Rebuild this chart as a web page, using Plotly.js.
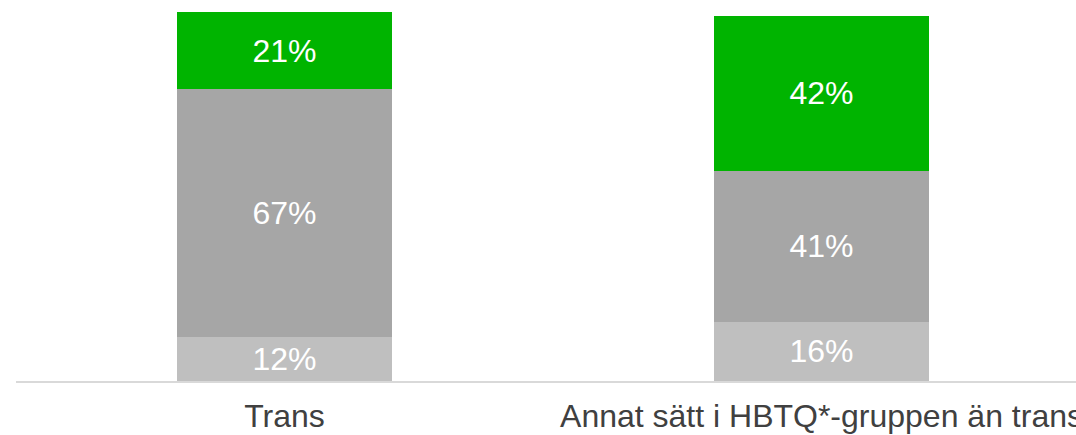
<!DOCTYPE html>
<html>
<head>
<meta charset="utf-8">
<script src="https://cdn.plot.ly/plotly-3.0.1.min.js"></script>
<style>
html,body{margin:0;padding:0;background:#fff;}
#chart{width:1076px;height:435px;}
</style>
</head>
<body>
<div id="chart"></div>
<script>
const categories = ["Trans", "Annat sätt i HBTQ*-gruppen än trans"];
const seriesLow = [12, 16];
const seriesMid = [67, 41];
const seriesHigh = [21, 42];
const colors = ["#bfbfbf", "#a6a6a6", "#00b400"];

const series = [seriesLow, seriesMid, seriesHigh];
const traces = series.map((vals, i) => ({
  type: "bar",
  x: categories,
  y: vals,
  width: 0.4,
  marker: {color: colors[i], line: {width: 0}},
  text: vals.map(v => v + "%"),
  textposition: "inside",
  insidetextanchor: "middle",
  constraintext: "none",
  textfont: {family: "Liberation Sans, Arial, sans-serif", size: 32, color: "#ffffff"},
  hoverinfo: "skip",
  showlegend: false
}));

const layout = {
  width: 1076,
  height: 435,
  barmode: "stack",
  margin: {l: 16, r: 0, t: 12, b: 54},
  paper_bgcolor: "#ffffff",
  plot_bgcolor: "#ffffff",
  xaxis: {
    type: "category",
    range: [-0.5, -0.5 + 1060 / 537],
    showline: true,
    linecolor: "#d9d9d9",
    linewidth: 2,
    showgrid: false,
    zeroline: false,
    ticks: "",
    ticklabelstandoff: 6,
    tickfont: {family: "Liberation Sans, Arial, sans-serif", size: 32, color: "#404040"},
    fixedrange: true
  },
  yaxis: {
    range: [0, 100],
    visible: false,
    showgrid: false,
    zeroline: false,
    fixedrange: true
  },
  font: {family: "Liberation Sans, Arial, sans-serif"}
};

Plotly.newPlot("chart", traces, layout, {displayModeBar: false, staticPlot: true});
</script>
</body>
</html>
